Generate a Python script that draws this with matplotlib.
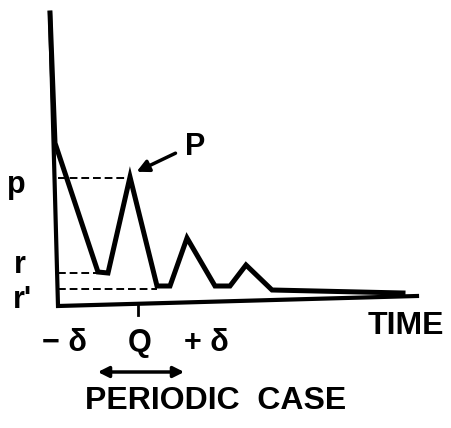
import matplotlib
matplotlib.use('Agg')
from matplotlib import pyplot as plt

# response after the stimulus, periodic case (schematic)
time = [-8, -3, 40, 50, 72, 99, 112, 129, 157, 172, 188, 214, 345]
level = [292, 162, 33, 32, 128, 19, 19, 67, 19, 19, 40, 15, 12]

p_level = 127
r_level = 32
r2_level = 16
q_time = 80

plt.rcParams['font.family'] = ['Liberation Sans', 'DejaVu Sans']
plt.rcParams['font.weight'] = 'bold'

fig = plt.figure(figsize=(4.52, 4.28), dpi=100)
ax = fig.add_axes([0, 0, 1, 1])
ax.set_xlim(-58, 394)
ax.set_ylim(-123, 305)
ax.axis('off')

# hand drawn axes, a little tilted like the scan
ax.plot([-8, 0, 359], [292, -1, 9], color='black', lw=3, solid_joinstyle='miter')
ax.plot([q_time, q_time], [0, -10], color='black', lw=2)

ax.plot(time, level, color='black', lw=3.6, solid_joinstyle='miter')

# dashed guides
dash = dict(color='black', lw=1.4, ls=(0, (4, 2)))
ax.plot([0, 72], [p_level, p_level], **dash)
ax.plot([0, 40], [r_level, r_level], **dash)
ax.plot([0, 99], [r2_level, r2_level], **dash)

fs = 22
ax.text(-42, 120, 'p', fontsize=fs, ha='center', va='center')
ax.text(-38, 40, 'r', fontsize=fs, ha='center', va='center')
ax.text(-36, 5, "r'", fontsize=fs, ha='center', va='center')

ax.text(137, 158, 'P', fontsize=fs, ha='center', va='center')
ax.annotate('', xy=(76, 132), xytext=(120, 153),
            arrowprops=dict(arrowstyle='-|>', color='black', lw=2.5, mutation_scale=18))

ax.text(6, -38, '\u2212 \u03b4', fontsize=fs, ha='center', va='center')
ax.text(82, -38, 'Q', fontsize=fs, ha='center', va='center')
ax.text(148, -38, '+ \u03b4', fontsize=fs, ha='center', va='center')
ax.annotate('', xy=(129, -67), xytext=(37, -67),
            arrowprops=dict(arrowstyle='<|-|>', color='black', lw=2.5, mutation_scale=16))

ax.text(348, -21, 'TIME', fontsize=23, ha='center', va='center')
ax.text(158, -96, 'PERIODIC  CASE', fontsize=23, ha='center', va='center')

plt.savefig('out.png', dpi=100)
